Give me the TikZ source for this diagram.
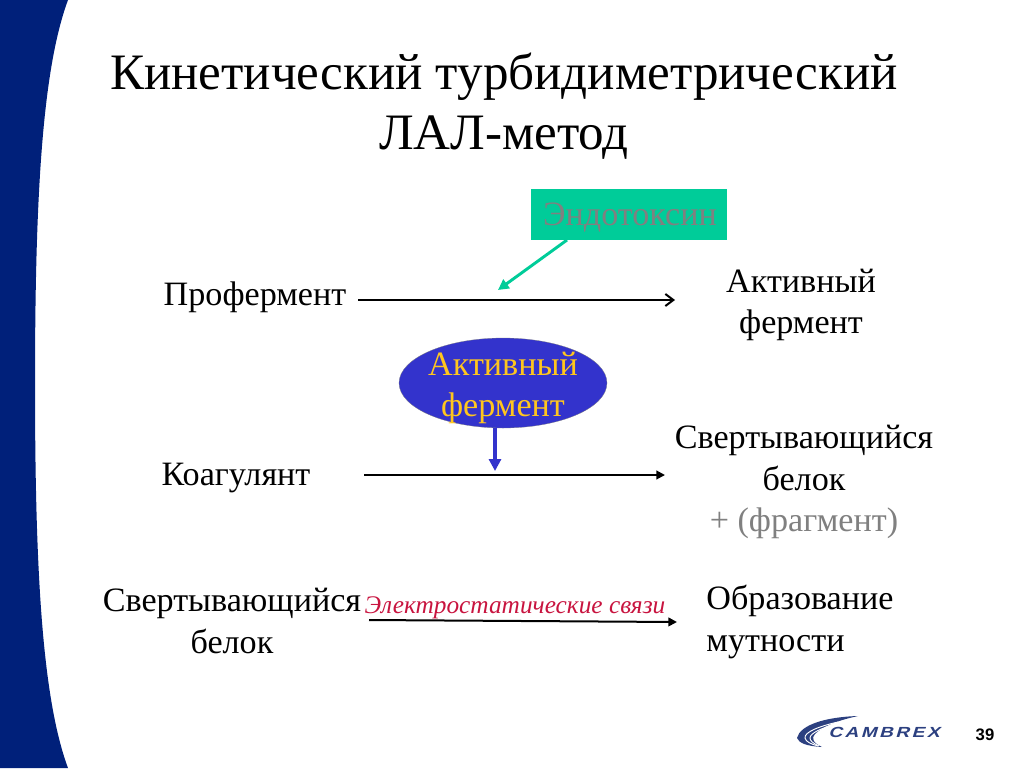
\documentclass[tikz,border=0pt]{standalone}
\usepackage{fontspec}
\setmainfont{Liberation Serif}
\newfontfamily\logofont[FakeStretch=1.3,FakeSlant=.3]{Liberation Sans}
\newfontfamily\pagefont{Liberation Sans}
\usetikzlibrary{arrows,arrows.meta,shapes.geometric,positioning}
\definecolor{bandblue}{HTML}{00207A}
\definecolor{toxgreen}{HTML}{00CC99}
\definecolor{enzblue}{HTML}{3333CC}
\definecolor{enzyellow}{HTML}{FFC61E}
\definecolor{softgray}{HTML}{808080}
\definecolor{bondred}{HTML}{C8143F}
\definecolor{logoblue}{HTML}{2C4080}
\begin{document}
\begin{tikzpicture}[x=0.75pt,y=-0.75pt,semithick]
      \tikzstyle{title}=[align=center,font=\fontsize{38.3}{45}\selectfont]
      \tikzstyle{body}=[align=center,inner sep=0pt,font=\fontsize{25.6}{31}\selectfont]
      \tikzstyle{reaction}=[-{Triangle[length=6.5pt,width=6.5pt]},line width=1.5pt,black]

      \useasboundingbox (0,0) rectangle (1024,768);
      \fill[bandblue] (0,0) -- (68,0) .. controls (42,70) and (35,200) .. (35,384)
            .. controls (35,568) and (42,698) .. (68,768) -- (0,768) -- cycle;

      \node[title]                      (head)   at (504,106) {Кинетический турбидиметрический\\ЛАЛ-метод};

      \node[body]                       (pro)    at (255,297) {Профермент};
      \node[body]                       (act)    at (801,305) {Активный\\фермент};
      \node[body]                       (coag)   at (236,478) {Коагулянт};
      \node[body]                       (clot)   at (804,482) {Свертывающийся\\белок\\\textcolor{softgray}{+ (фрагмент)}};
      \node[body]                       (clotb)  at (232,621) {Свертывающийся\\белок};
      \node[body,align=left]            (turb)   at (800,622) {Образование\\мутности};

      \node[fill=toxgreen,minimum width=147pt,minimum height=38.25pt,inner sep=0pt] (toxin) at (629,214.5) {};
      \node[text=softgray,inner sep=0pt,font=\fontsize{25.6}{28}\selectfont] (toxtext) at (630,217) {Эндотоксин};
      \node[ellipse,fill=enzblue,draw=softgray,very thin,minimum width=156pt,minimum height=67.5pt,
            inner sep=0pt] (enz) at (503,383) {};
      \node[body,text=enzyellow] (enztext) at (503,388) {Активный\\фермент};
      \node[text=bondred,inner sep=0pt,font=\fontsize{19}{22}\selectfont\itshape] (bond) at (515,608) {Электростатические связи};

      \coordinate (pros) at (358,300);
      \coordinate (proe) at (675,300);
      \coordinate (coags) at (364,475);
      \coordinate (coage) at (665,475);
      \coordinate (clots) at (369,620);
      \coordinate (clote) at (677,622);
      \coordinate (toxs) at (567,240);
      \coordinate (toxe) at (498,290);
      \coordinate (enzs) at (495,428);
      \coordinate (enze) at (495,471);

      \draw[-{Straight Barb[length=6pt,width=9pt]},line width=1.5pt] (pros) -- (proe);
      \draw[reaction] (coags) -- (coage);
      \draw[reaction] (clots) -- (clote);
      \draw[-{Triangle[length=8pt,width=8pt]},toxgreen,line width=2.2pt] (toxs) -- (toxe);
      \draw[-{Triangle[length=9pt,width=9pt]},enzblue,line width=3pt] (enzs) -- (enze);

      % logo
      \fill[logoblue] (858,716) .. controls (825,717) and (800,725) .. (797,738)
            .. controls (799,743) and (806,746) .. (822,747)
            .. controls (813,743) and (811,738) .. (815,734)
            .. controls (822,727) and (835,721) .. (858,716) -- cycle;
      \draw[white,line width=0.7pt] (838,722) .. controls (820,726) and (804,732) .. (805,738)
            .. controls (806,742) and (811,744) .. (818,746);
      \draw[white,line width=0.7pt] (836,724) .. controls (822,728) and (810,733) .. (810,738)
            .. controls (810,741) and (813,743) .. (819,746);
      \node[text=logoblue,inner sep=0pt,font=\logofont\fontsize{11}{13}\selectfont\bfseries] (logo) at (884,732)
            {C\,A\,M\,B\,R\,E\,X};
      \node[inner sep=0pt,font=\pagefont\fontsize{12.5}{14}\selectfont\bfseries] (page) at (985,735) {39};
    \end{tikzpicture}
\end{document}
